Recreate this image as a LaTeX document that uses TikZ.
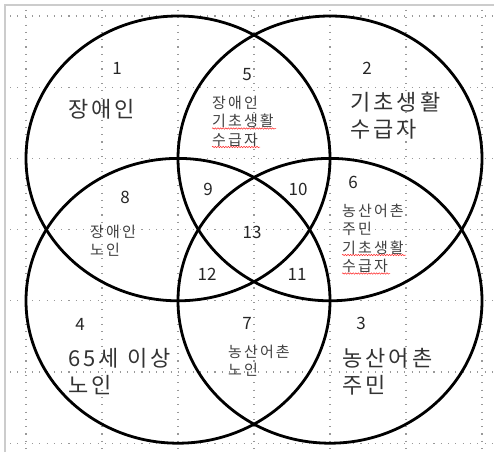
\documentclass[tikz,border=0pt]{standalone}
\usepackage{fontspec}
\setmainfont{Noto Sans CJK KR}
\newfontfamily\spacedfont[LetterSpace=14]{Noto Sans CJK KR}
\usepackage{xcolor}
\usetikzlibrary{positioning,decorations.pathmorphing}

\begin{document}
\begin{tikzpicture}[x=1pt,y=-1pt,
  big/.style={align=left,anchor=base west,inner sep=0pt,
              font=\spacedfont\fontsize{22}{27}\selectfont,text=black!80},
  small/.style={align=left,anchor=base west,inner sep=0pt,
              font=\spacedfont\fontsize{15}{18.5}\selectfont,text=black!75},
  num/.style={inner sep=0pt,font=\fontsize{17}{17}\selectfont,text=black!85},
  grid line/.style={gray!80,line width=1.1pt,dash pattern=on 1.1pt off 6.2pt},
  set/.style={line width=2.8pt},
  wave/.style={red!85,line width=0.5pt,decorate,
               decoration={snake,amplitude=0.7pt,segment length=2.6pt}}]
\useasboundingbox (0,0) rectangle (494,452);
%
% page edge and grid
\draw[gray!40,line width=1.6pt] (5,452) -- (5,5) -- (494,5);
\foreach \x in {26,102,178,254,330,406,482}
  \draw[grid line] (\x,10) -- (\x,452);
\foreach \y in {16,87.2,158.4,229.6,300.8,372,443.2}
  \draw[grid line] (10,\y) -- (494,\y);
%
% the four sets
\draw[set] (178,158.4) ellipse [x radius=152,y radius=142.4];
\draw[set] (330,158.4) ellipse [x radius=152,y radius=142.4];
\draw[set] (178,300.8) ellipse [x radius=152,y radius=142.4];
\draw[set] (330,300.8) ellipse [x radius=152,y radius=142.4];
%
% region numbers
\node[num] (n1)  at (117,68)  {1};
\node[num] (n2)  at (367,68)  {2};
\node[num] (n3)  at (361,323) {3};
\node[num] (n4)  at (80,324)  {4};
\node[num] (n5)  at (247,75)  {5};
\node[num] (n6)  at (353,182) {6};
\node[num] (n7)  at (247,323) {7};
\node[num] (n8)  at (125,197) {8};
\node[num] (n9)  at (208,189) {9};
\node[num] (n10) at (298,189) {10};
\node[num] (n11) at (297,274) {11};
\node[num] (n12) at (207,274) {12};
\node[num] (n13) at (252,232) {13};
%
% region labels (placed at the baseline of their last line)
\node[big]   (t1) at (68,117)    {장애인};
\node[big]   (t2) at (350,137)   {기초생활\\수급자};
\node[big]   (t3) at (342,393)   {농산어촌\\주민};
\node[big]   (t4) at (68,393)    {65세 이상\\노인};
\node[small] (t5) at (212,145)   {장애인\\기초생활\\수급자};
\node[small] (t6) at (342,271.5) {농산어촌\\주민\\기초생활\\수급자};
\node[small] (t7) at (228,375.5) {농산어촌\\노인};
\node[small] (t8) at (90,255.5)  {장애인\\노인};
%
% spell-check waves
\draw[wave] ([yshift=16.5pt]t5.base west) -- ++(64,0);
\draw[wave] ([yshift=-2pt]t5.base west) -- ++(48,0);
\draw[wave] ([yshift=16.5pt]t6.base west) -- ++(64,0);
\draw[wave] ([yshift=-2pt]t6.base west) -- ++(48,0);
%
\end{tikzpicture}
\end{document}
